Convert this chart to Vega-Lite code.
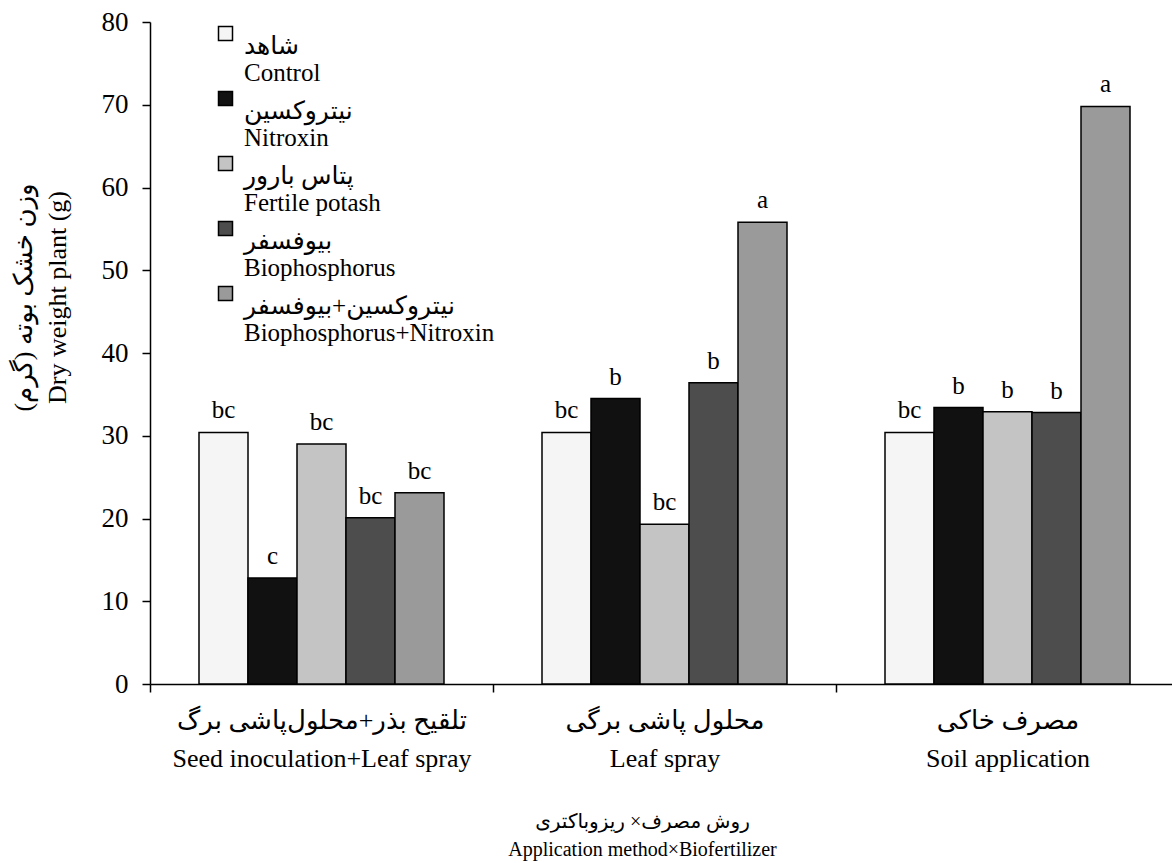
{
  "$schema": "https://vega.github.io/schema/vega-lite/v6.json",
  "width": 1022,
  "height": 662,
  "autosize": {"type": "none"},
  "padding": {"left": 150, "top": 22, "right": 0, "bottom": 179},
  "background": "white",
  "config": {
    "view": {"stroke": null},
    "font": "Liberation Serif, DejaVu Sans, serif"
  },
  "data": {
    "values": [
      {"method": "تلقیح بذر+محلول‌پاشی برگ|Seed inoculation+Leaf spray", "treatment": "شاهد|Control", "value": 30.4, "letter": "bc"},
      {"method": "تلقیح بذر+محلول‌پاشی برگ|Seed inoculation+Leaf spray", "treatment": "نیتروکسین|Nitroxin", "value": 12.8, "letter": "c"},
      {"method": "تلقیح بذر+محلول‌پاشی برگ|Seed inoculation+Leaf spray", "treatment": "پتاس بارور|Fertile potash", "value": 29.0, "letter": "bc"},
      {"method": "تلقیح بذر+محلول‌پاشی برگ|Seed inoculation+Leaf spray", "treatment": "بیوفسفر|Biophosphorus", "value": 20.1, "letter": "bc"},
      {"method": "تلقیح بذر+محلول‌پاشی برگ|Seed inoculation+Leaf spray", "treatment": "نیتروکسین+بیوفسفر|Biophosphorus+Nitroxin", "value": 23.1, "letter": "bc"},
      {"method": "محلول پاشی برگی|Leaf spray", "treatment": "شاهد|Control", "value": 30.4, "letter": "bc"},
      {"method": "محلول پاشی برگی|Leaf spray", "treatment": "نیتروکسین|Nitroxin", "value": 34.5, "letter": "b"},
      {"method": "محلول پاشی برگی|Leaf spray", "treatment": "پتاس بارور|Fertile potash", "value": 19.3, "letter": "bc"},
      {"method": "محلول پاشی برگی|Leaf spray", "treatment": "بیوفسفر|Biophosphorus", "value": 36.4, "letter": "b"},
      {"method": "محلول پاشی برگی|Leaf spray", "treatment": "نیتروکسین+بیوفسفر|Biophosphorus+Nitroxin", "value": 55.8, "letter": "a"},
      {"method": "مصرف خاکی|Soil application", "treatment": "شاهد|Control", "value": 30.4, "letter": "bc"},
      {"method": "مصرف خاکی|Soil application", "treatment": "نیتروکسین|Nitroxin", "value": 33.4, "letter": "b"},
      {"method": "مصرف خاکی|Soil application", "treatment": "پتاس بارور|Fertile potash", "value": 32.9, "letter": "b"},
      {"method": "مصرف خاکی|Soil application", "treatment": "بیوفسفر|Biophosphorus", "value": 32.8, "letter": "b"},
      {"method": "مصرف خاکی|Soil application", "treatment": "نیتروکسین+بیوفسفر|Biophosphorus+Nitroxin", "value": 69.8, "letter": "a"}
    ]
  },
  "encoding": {
    "x": {
      "field": "method",
      "type": "nominal",
      "sort": [
        "تلقیح بذر+محلول‌پاشی برگ|Seed inoculation+Leaf spray",
        "محلول پاشی برگی|Leaf spray",
        "مصرف خاکی|Soil application"
      ],
      "scale": {"range": [0, 1029], "paddingInner": 0, "paddingOuter": 0},
      "axis": {
        "labelExpr": "split(datum.label, '|')",
        "labelAngle": 0,
        "labelFontSize": 26,
        "labelLineHeight": 38,
        "labelPadding": 15,
        "labelColor": "black",
        "labelLimit": 0,
        "tickBand": "extent",
        "tickSize": 8,
        "tickColor": "black",
        "tickWidth": 1.5,
        "domainColor": "black",
        "domainWidth": 1.5,
        "title": ["روش مصرف× ریزوباکتری", "Application method×Biofertilizer"],
        "titleFontSize": 20,
        "titleFontWeight": "normal",
        "titleLineHeight": 28,
        "titleColor": "black",
        "titleX": 492,
        "titleY": 127,
        "titleBaseline": "top",
        "titleAlign": "center"
      }
    },
    "xOffset": {
      "field": "treatment",
      "type": "nominal",
      "sort": [
        "شاهد|Control",
        "نیتروکسین|Nitroxin",
        "پتاس بارور|Fertile potash",
        "بیوفسفر|Biophosphorus",
        "نیتروکسین+بیوفسفر|Biophosphorus+Nitroxin"
      ],
      "scale": {"paddingInner": 0, "paddingOuter": 1.1}
    },
    "y": {
      "field": "value",
      "type": "quantitative",
      "scale": {"domain": [0, 80], "nice": false},
      "axis": {
        "values": [0, 10, 20, 30, 40, 50, 60, 70, 80],
        "grid": false,
        "labelFontSize": 27,
        "labelColor": "black",
        "labelPadding": 14,
        "tickSize": 8,
        "tickColor": "black",
        "tickWidth": 1.5,
        "domainColor": "black",
        "domainWidth": 1.5,
        "title": ["وزن خشک بوته (گرم)", "Dry weight plant (g)"],
        "titleFontSize": 26,
        "titleFontWeight": "normal",
        "titleLineHeight": 34,
        "titleColor": "black",
        "titleY": 275,
        "titlePadding": 31
      }
    }
  },
  "layer": [
    {
      "mark": {"type": "bar", "stroke": "black", "strokeWidth": 1.5},
      "encoding": {
        "fill": {
          "field": "treatment",
          "type": "nominal",
          "sort": [
            "شاهد|Control",
            "نیتروکسین|Nitroxin",
            "پتاس بارور|Fertile potash",
            "بیوفسفر|Biophosphorus",
            "نیتروکسین+بیوفسفر|Biophosphorus+Nitroxin"
          ],
          "scale": {"range": ["#f5f5f5", "#111111", "#c4c4c4", "#4d4d4d", "#9a9a9a"]},
          "legend": {
            "orient": "none",
            "legendX": 63,
            "legendY": -1,
            "direction": "vertical",
            "padding": 0,
            "title": null,
            "labelExpr": "split(datum.label, '|')",
            "labelFontSize": 25,
            "labelBaseline": "top",
            "labelColor": "black",
            "labelLimit": 0,
            "labelOffset": 6,
            "symbolType": "square",
            "symbolSize": 196,
            "symbolStrokeColor": "black",
            "symbolStrokeWidth": 1.5,
            "rowPadding": 0
          }
        }
      }
    },
    {
      "mark": {"type": "text", "baseline": "alphabetic", "dy": -14, "fontSize": 25, "color": "black"},
      "encoding": {"text": {"field": "letter"}}
    }
  ]
}
